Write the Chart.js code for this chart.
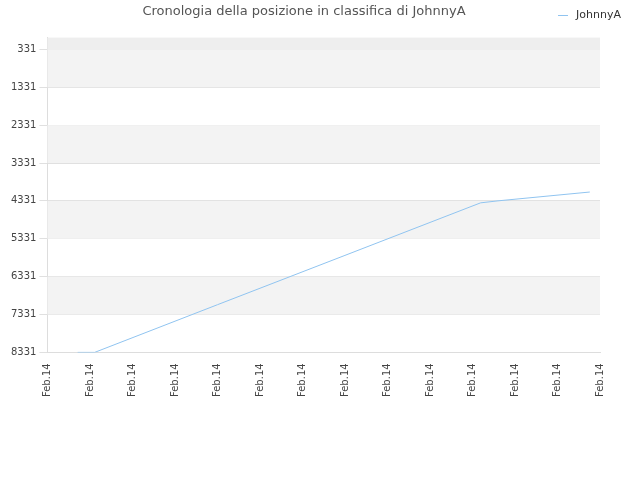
<!DOCTYPE html>
<html><head><meta charset="utf-8">
<script src="https://cdn.jsdelivr.net/npm/chart.js@4/dist/chart.umd.min.js"></script>
<style>html,body{margin:0;background:#fff}#w{width:640px;height:480px}</style>
</head><body><div id="w"><canvas id="c"></canvas></div>
<script>
const xPositions = [0.71, 1.11, 4.0, 7.0, 10.19, 10.6, 12.76];
const positions = [8331, 8331, 7072, 5770, 4383, 4330, 4097];
const tickLabel = "Feb.14";
const yTicks = [331, 1331, 2331, 3331, 4331, 5331, 6331, 7331, 8331];
const seriesName = "JohnnyA";

const bands = {
  id: 'bands',
  beforeDatasetsDraw(ch) {
    const {ctx, chartArea: a, scales: {y}} = ch;
    ctx.save();
    ctx.fillStyle = '#eeeeee';
    ctx.fillRect(a.left, a.top, a.right - a.left, y.getPixelForValue(331) - a.top);
    ctx.fillStyle = '#f3f3f3';
    for (let i = 0; i < yTicks.length - 1; i += 2) {
      const t = y.getPixelForValue(yTicks[i]), b = y.getPixelForValue(yTicks[i + 1]);
      ctx.fillRect(a.left, t, a.right - a.left, b - t);
    }
    ctx.restore();
  },
  afterDraw(ch) {
    const ctx = ch.ctx;
    ctx.save();
    ctx.strokeStyle = '#90c4f0'; ctx.lineWidth = 1;
    ctx.beginPath(); ctx.moveTo(558, 15.5); ctx.lineTo(568, 15.5); ctx.stroke();
    ctx.fillStyle = '#333'; ctx.font = '11px "DejaVu Sans"'; ctx.textBaseline = 'middle';
    ctx.fillText(seriesName, 576, 15);
    ctx.restore();
  }
};

new Chart(document.getElementById('c'), {
  type: 'line',
  data: { datasets: [{
    label: seriesName,
    data: xPositions.map((x, i) => ({x, y: positions[i]})),
    borderColor: '#90c4f0', backgroundColor: '#90c4f0',
    borderWidth: 1, pointRadius: 0, tension: 0
  }]},
  options: {
    responsive: true, maintainAspectRatio: false, animation: false,
    layout: { padding: { left: 8, right: 40, top: 0, bottom: 80 } },
    plugins: {
      title: { display: true, text: 'Cronologia della posizione in classifica di JohnnyA',
        color: '#555', font: { family: 'DejaVu Sans', size: 13, weight: 'normal' }, padding: { top: 4, bottom: 18 } },
      legend: { display: false }
    },
    scales: {
      x: { type: 'linear', min: 0, max: 13,
        ticks: { stepSize: 1, autoSkip: false, maxRotation: 90, minRotation: 90, color: '#444',
          font: { family: 'DejaVu Sans', size: 10 }, callback: () => tickLabel },
        grid: { display: false }, border: { color: '#ddd' } },
      y: { reverse: true, min: 20, max: 8331,
        afterBuildTicks: ax => { ax.ticks = yTicks.map(v => ({value: v})); },
        ticks: { color: '#444', font: { family: 'DejaVu Sans', size: 10 }, callback: v => String(v) },
        grid: { color: '#e0e0e0' }, border: { color: '#ddd' } }
    }
  },
  plugins: [bands]
});
</script></body></html>
